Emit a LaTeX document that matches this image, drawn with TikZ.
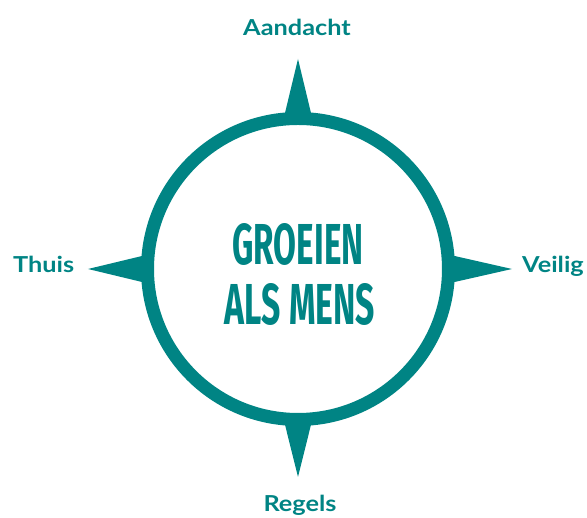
\documentclass[tikz,border=0pt]{standalone}
\usepackage{fontspec}
\setmainfont{Lato}
\newfontfamily\labelfont[FakeStretch=1.15]{Lato}
\newfontfamily\titlefont{Fira Sans}
\definecolor{compass}{RGB}{0,132,132}

\begin{document}
\begin{tikzpicture}[x=1pt, y=1pt,
	label/.style={text=compass, inner sep=0pt, font=\labelfont\bfseries\fontsize{22}{26}\selectfont},
	title/.style={text=compass, inner sep=0pt, font=\titlefont\bfseries}]
	\useasboundingbox (-298,-249) rectangle (289,269);
	% points of the compass
	\foreach \a/\r in {90/210, 0/214, 180/210, 270/208}
		\fill[compass] (\a:\r) -- (\a+6:147) -- (\a-6:147) -- cycle;
	\node[draw=compass, line width=13pt, circle, minimum size=301pt, inner sep=0pt] (ring) at (0,0) {};
	\node[title, anchor=base] (groeien) at (0,4) {\resizebox{131pt}{41pt}{GROEIEN}};
	\node[title, anchor=base] (mens) at (2,-56) {\resizebox{150pt}{41pt}{ALS MENS}};
	\node[label, anchor=base] (aandacht) at (-1,233) {Aandacht};
	\node[label, anchor=base west] (veilig) at (224,-4) {Veilig};
	\node[label, anchor=base] (regels) at (2,-243) {Regels};
	\node[label, anchor=base west] (thuis) at (-285,-4) {Thuis};
\end{tikzpicture}
\end{document}
